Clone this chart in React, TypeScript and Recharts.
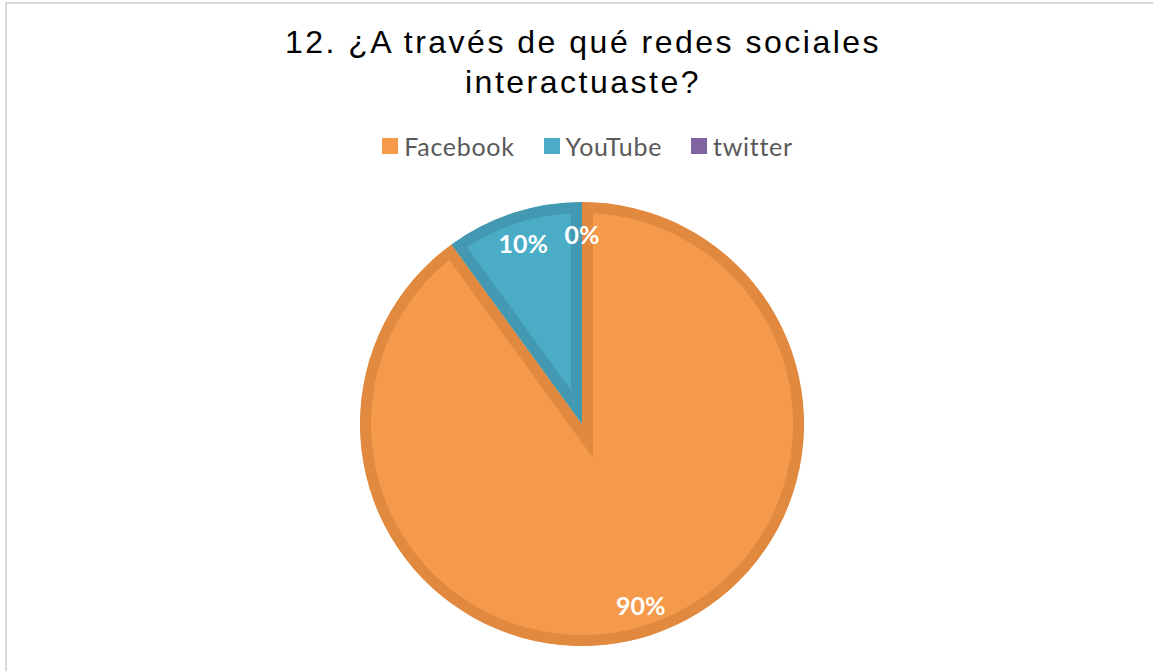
import React from 'react';
import { PieChart, Pie, Cell, Legend, Sector } from 'recharts';

// Survey answers: "12. ¿A través de qué redes sociales interactuaste?"
const categories = ['Facebook', 'YouTube', 'twitter'];
const percentages = [90, 10, 0];
const labels = ['90%', '10%', '0%'];

const fillColors = ['#F59A4A', '#4BACC6', '#8064A2'];
const edgeColors = ['#E0893F', '#4399B2', '#74578F'];

const data = categories.map((name, i) => ({ name, value: percentages[i], label: labels[i] }));

const RADIAN = Math.PI / 180;
const LEGEND_HEIGHT = 28;

// Excel-style border drawn on the inside of each slice
function InsetSector(props: any) {
  const { index, cx, cy, innerRadius, outerRadius, startAngle, endAngle, fill, stroke } = props;
  if (startAngle === endAngle) return null;
  const clipId = `slice-clip-${index}`;
  return (
    <g>
      <defs>
        <clipPath id={clipId}>
          <Sector
            cx={cx}
            cy={cy}
            innerRadius={innerRadius}
            outerRadius={outerRadius}
            startAngle={startAngle}
            endAngle={endAngle}
          />
        </clipPath>
      </defs>
      <Sector
        cx={cx}
        cy={cy}
        innerRadius={innerRadius}
        outerRadius={outerRadius}
        startAngle={startAngle}
        endAngle={endAngle}
        fill={fill}
        stroke={stroke}
        strokeWidth={22}
        clipPath={`url(#${clipId})`}
      />
    </g>
  );
}

function renderLabel(props: any) {
  const { cx, cy, midAngle, outerRadius, index } = props;
  const r = outerRadius * 0.858;
  const x = cx + r * Math.cos(-midAngle * RADIAN);
  const y = cy + r * Math.sin(-midAngle * RADIAN);
  return (
    <text
      x={x}
      y={y}
      fill="#FFFFFF"
      textAnchor="middle"
      dominantBaseline="central"
      style={{ fontFamily: 'Lato, sans-serif', fontSize: 25, fontWeight: 700 }}
    >
      {labels[index]}
    </text>
  );
}

function renderLegend(props: any) {
  const { payload } = props;
  return (
    <div style={{ display: 'flex', justifyContent: 'center', alignItems: 'center', height: LEGEND_HEIGHT }}>
      {payload.map((entry: any, i: number) => (
        <div key={entry.value} style={{ display: 'flex', alignItems: 'center', marginLeft: i === 0 ? 0 : 29 }}>
          <span style={{ display: 'inline-block', width: 16, height: 16, background: entry.color, marginRight: 6 }} />
          <span style={{ color: '#595959', fontFamily: 'Lato, sans-serif', fontSize: 25, letterSpacing: 0.7 }}>
            {entry.value}
          </span>
        </div>
      ))}
    </div>
  );
}

export default function App() {
  return (
    <div style={{ position: 'absolute', left: 0, top: 0, width: 1153, height: 671, background: '#fff', overflow: 'hidden' }}>
      {/* chart area frame */}
      <div
        style={{
          position: 'absolute',
          left: 5,
          top: 2,
          width: 1160,
          height: 700,
          borderLeft: '2px solid #D9D9D9',
          borderTop: '2px solid #D9D9D9',
        }}
      />
      <div
        style={{
          position: 'absolute',
          left: 0,
          top: 22,
          width: 1166,
          textAlign: 'center',
          fontFamily: '"Liberation Sans", Arial, sans-serif',
          fontSize: 32,
          lineHeight: '40px',
          letterSpacing: 2.5,
          color: '#000',
        }}
      >
        12. ¿A través de qué redes sociales
        <br />
        interactuaste?
      </div>
      <PieChart
        width={1153}
        height={671}
        margin={{ top: 0, right: 0, bottom: 0, left: 0 }}
        style={{ position: 'absolute', left: 0, top: 0 }}
      >
        <Legend
          verticalAlign="top"
          align="center"
          height={LEGEND_HEIGHT}
          wrapperStyle={{ top: 132, left: 11 }}
          content={renderLegend}
          payload={categories.map((name, i) => ({ value: name, type: 'square', color: edgeColors[i] }))}
        />
        <Pie
          data={data}
          dataKey="value"
          nameKey="name"
          cx={582}
          cy={424 - LEGEND_HEIGHT}
          outerRadius={222}
          startAngle={90}
          endAngle={-270}
          shape={InsetSector}
          label={renderLabel}
          labelLine={false}
          isAnimationActive={false}
        >
          {data.map((d, i) => (
            <Cell key={d.name} fill={fillColors[i]} stroke={edgeColors[i]} />
          ))}
        </Pie>
      </PieChart>
    </div>
  );
}
